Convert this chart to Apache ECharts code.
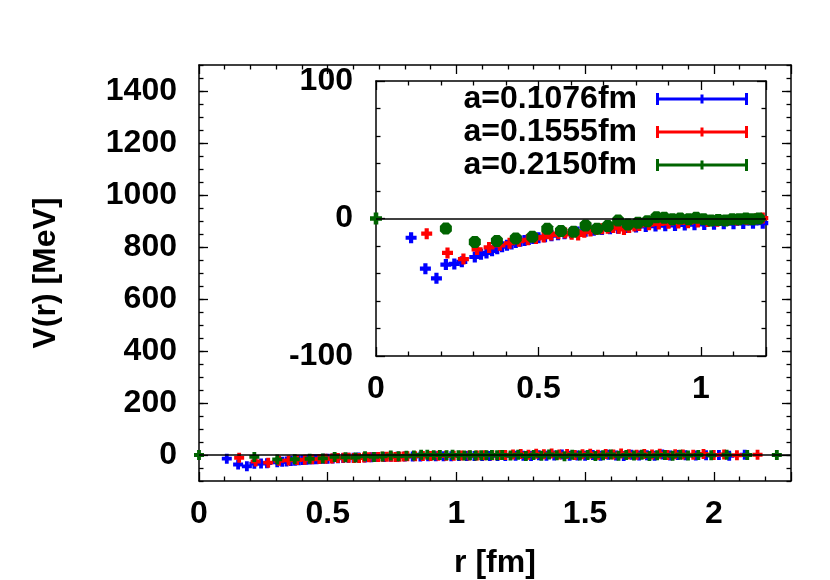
<!DOCTYPE html>
<html><head><meta charset="utf-8">
<script src="https://cdn.jsdelivr.net/npm/echarts@6/dist/echarts.min.js"></script>
<style>html,body{margin:0;padding:0;background:#fff}#c{width:830px;height:580px}</style>
</head><body><div id="c"></div>
<script>
// ---------------- data ----------------
const seriesNames = ['a=0.1076fm', 'a=0.1555fm', 'a=0.2150fm'];
const rBlue = [0.108,0.152,0.186,0.215,0.241,0.264,0.304,0.323,0.340,0.357,
  0.373,0.388,0.403,0.417,0.430,0.444,0.457,0.470,0.484,0.500,
  0.520,0.540,0.560,0.580,0.600,0.620,0.645,0.670,0.695,0.720,
  0.745,0.770,0.800,0.830,0.860,0.890,0.920,0.950,0.980,1.010,
  1.040,1.070,1.100,1.130,1.160,1.190,
  1.23,1.26,1.29,1.32,1.35,1.38,1.41,1.44,1.47,1.50,
  1.53,1.56,1.59,1.62,1.65,1.68,1.71,1.74,1.77,1.80,
  1.83,1.86,1.89,1.93,1.97,2.02,2.06,2.12];
const vBlue = [-14,-36.5,-43.5,-33.5,-33,-31.5,-28,-26,-25,-23.5,
  -22,-20.5,-19.5,-18.5,-17.5,-16.5,-16,-15.2,-14.5,-14,
  -13.2,-12.5,-11.8,-11,-10.4,-9.8,-9.2,-8.6,-8,-7.5,
  -7,-6.6,-6.2,-5.8,-5.5,-5.2,-5,-4.7,-4.5,-4.3,
  -4.1,-3.9,-3.8,-3.6,-3.5,-3.4,
  -3,-2.5,-4,-1,-3,-2,2,-3,-1.5,-2.5,
  0,-3,1,-2,-4,0.5,-2,-1,-3,1.5,
  -2,0,-1,-2,-1,0,-3,1];
const rRed = [0.156,0.220,0.269,0.311,0.348,0.381,0.411,0.440,0.467,0.492,
  0.516,0.539,0.561,0.582,0.602,0.622,0.641,0.660,0.678,0.696,
  0.713,0.730,0.747,0.763,0.779,0.795,0.810,0.840,0.870,0.900,
  0.930,0.960,0.990,1.020,1.050,1.080,1.110,1.140,1.170,1.190,
  1.22,1.25,1.28,1.31,1.34,1.37,1.40,1.43,1.46,1.49,
  1.52,1.55,1.58,1.61,1.64,1.67,1.70,1.73,1.76,1.79,
  1.82,1.85,1.88,1.92,1.96,2.00,2.04,2.09,2.17];
const vRed = [-11,-25,-29.5,-22.5,-21,-19.5,-18,-16.5,-15.5,-14.5,
  -13.5,-12,-11,-10.5,-11.5,-12,-10,-9,-8,-7.5,
  -7,-6.5,-7,-8,-6.5,-5.5,-5,-4.5,-4,-3.5,
  -3.2,-3,-2.5,-2.2,-2,-1.5,-1,-0.5,-0.2,0.3,
  2,4,1,5,3,6,2,4,0,3,
  5,1,4,2,6,3,1,4,2,5,
  0,3,2,1,4,0,2,-1,1];
const rGreen = [0,0.215,0.304,0.372,0.430,0.481,0.527,0.569,0.608,0.645,
  0.680,0.713,0.745,0.775,0.806,0.835,0.863,0.887,0.912,0.936,
  0.962,0.985,1.008,1.031,1.053,1.075,1.096,1.117,1.138,1.158,
  1.178,
  1.21,1.24,1.27,1.30,1.33,1.36,1.39,1.42,1.45,1.48,
  1.51,1.54,1.57,1.60,1.63,1.66,1.69,1.72,1.75,1.78,
  1.81,1.84,1.87,1.90,1.94,1.99,2.05,2.13,2.245];
const vGreen = [0,-7.3,-17,-16.3,-14.5,-13.3,-7.5,-9,-9.7,-5.1,
  -7.5,-5.5,-1.5,-4.4,-3,-2,1,0.5,-0.5,0,
  -0.5,0.5,-0.5,-1.5,-1,-1.5,-0.5,-0.5,0,-0.5,
  0,
  -2,1,-4,0,-3,2,-1,-5,1,-2,
  0,-4,-1,2,-3,0,-2,1,-4,-1,
  0,-3,1,-2,0,-1,1,0,0];
const mainYLabels = [0,200,400,600,800,1000,1200,1400];

// ---------------- style ----------------
const colors = ['#0000ff', '#ff0000', '#006400'];
const FONT = "'Liberation Sans', Arial, Helvetica, sans-serif";
const PLUS = 'path://M3.1,0H6.9V3.1H10V6.9H6.9V10H3.1V6.9H0V3.1H3.1Z';
const OCT = 'path://M2.8,0H7.2L10,2.8V7.2L7.2,10H2.8L0,7.2V2.8Z';
const ERRBAR = 'path://M0,0H3V4.5H44.5V1.5H47.5V4.5H89V0H92V12H89V7.5H47.5V10.5H44.5V7.5H3V12H0Z';
const lineS = {color:'#000', width:1.5};
const tickS = {color:'#000', width:1.3};
const labelS = {color:'#000', fontSize:32, fontWeight:'bold', fontFamily:FONT};

const pts = (r, v) => r.map((x, i) => [x, v[i]]);
const allR = [rBlue, rRed, rGreen];
const allV = [vBlue, vRed, vGreen];
const fmt = v => String(v);

function xAx(grid, pos, max, showLab) {
  return {type:'value', gridIndex:grid, position:pos, min:0, max:max, interval:0.5,
    axisLine:{show:true, onZero:false, lineStyle:lineS},
    axisTick:{show:true, inside:true, length:9, lineStyle:tickS},
    minorTick:{show:true, splitNumber:5, length:4.5, lineStyle:tickS},
    splitLine:{show:false}, minorSplitLine:{show:false},
    axisLabel:Object.assign({show:showLab, showMaxLabel:false, margin:17, formatter:fmt}, labelS)};
}

const xAxes = [xAx(0,'bottom',2.3,true), xAx(0,'top',2.3,false),
               xAx(1,'bottom',1.2,true), xAx(1,'top',1.2,false)];
xAxes[0] = Object.assign(xAxes[0], {name:'r [fm]', nameLocation:'middle', nameGap:66, nameTextStyle:labelS});

function mainYMinor(pos, showLab) {
  return {type:'value', gridIndex:0, position:pos, min:-100, max:1500, interval:50,
    axisLine:{show:true, onZero:false, lineStyle:lineS},
    axisTick:{show:true, inside:true, length:4.5, lineStyle:tickS},
    splitLine:{show:false},
    axisLabel:Object.assign({show:showLab, margin:22, customValues:mainYLabels, formatter:fmt}, labelS)};
}
function mainYMajor(pos) {
  return {type:'value', gridIndex:0, position:pos, min:-100, max:1500, interval:50,
    axisLine:{show:false, onZero:false},
    axisTick:{show:true, inside:true, length:9, lineStyle:tickS, customValues:mainYLabels},
    splitLine:{show:false}, axisLabel:{show:false}};
}
function insetY(pos, showLab) {
  return {type:'value', gridIndex:1, position:pos, min:-100, max:100, interval:100,
    axisLine:{show:true, onZero:false, lineStyle:lineS},
    axisTick:{show:true, inside:true, length:9, lineStyle:tickS},
    minorTick:{show:true, splitNumber:5, length:4.5, lineStyle:tickS},
    splitLine:{show:false}, minorSplitLine:{show:false},
    axisLabel:Object.assign({show:showLab, margin:23, formatter:fmt}, labelS)};
}
const yAxes = [mainYMinor('left', true), mainYMajor('left'),
               mainYMinor('right', false), mainYMajor('right'),
               insetY('left', true), insetY('right', false)];
yAxes[0] = Object.assign(yAxes[0], {name:'V(r) [MeV]', nameLocation:'middle', nameGap:137, nameTextStyle:labelS});

const zeroLine = {silent:true, symbol:['none','none'], label:{show:false},
  lineStyle:{color:'#000', width:1.5, type:'solid'}, data:[{yAxis:0}], animation:false};

const series = [];
for (let k = 0; k < 3; k++) {
  series.push({type:'scatter', name:seriesNames[k], xAxisIndex:0, yAxisIndex:0,
    data:pts(allR[k], allV[k]), symbol:PLUS, symbolSize:10, clip:true,
    itemStyle:{color:colors[k], opacity:1},
    markLine: k === 2 ? zeroLine : undefined});
}
for (let k = 0; k < 3; k++) {
  series.push({type:'scatter', name:seriesNames[k], xAxisIndex:2, yAxisIndex:4,
    data:pts(allR[k], allV[k]),
    symbol: k === 2 ? (val => val[0] === 0 ? PLUS : OCT) : PLUS,
    symbolSize: k === 2 ? 12 : 11, clip:true,
    itemStyle:{color:colors[k], opacity:1},
    markLine: k === 2 ? zeroLine : undefined});
}

const chart = echarts.init(document.getElementById('c'), null, {renderer:'canvas'});
chart.setOption({
  animation:false,
  backgroundColor:'#fff',
  grid:[
    {left:199, top:65, width:592, height:416, show:false, outerBoundsMode:'none', containLabel:false},
    {left:376, top:81, width:390, height:275, show:true, backgroundColor:'#fff', borderWidth:0, outerBoundsMode:'none', containLabel:false}
  ],
  xAxis:xAxes,
  yAxis:yAxes,
  legend:{
    data:seriesNames, orient:'vertical', right:77, top:78,
    align:'right', icon:ERRBAR, itemWidth:92, itemHeight:12, itemGap:1,
    selectedMode:false,
    textStyle:Object.assign({padding:[0,14,0,0], lineHeight:31}, labelS)
  },
  series:series
});
</script></body></html>
